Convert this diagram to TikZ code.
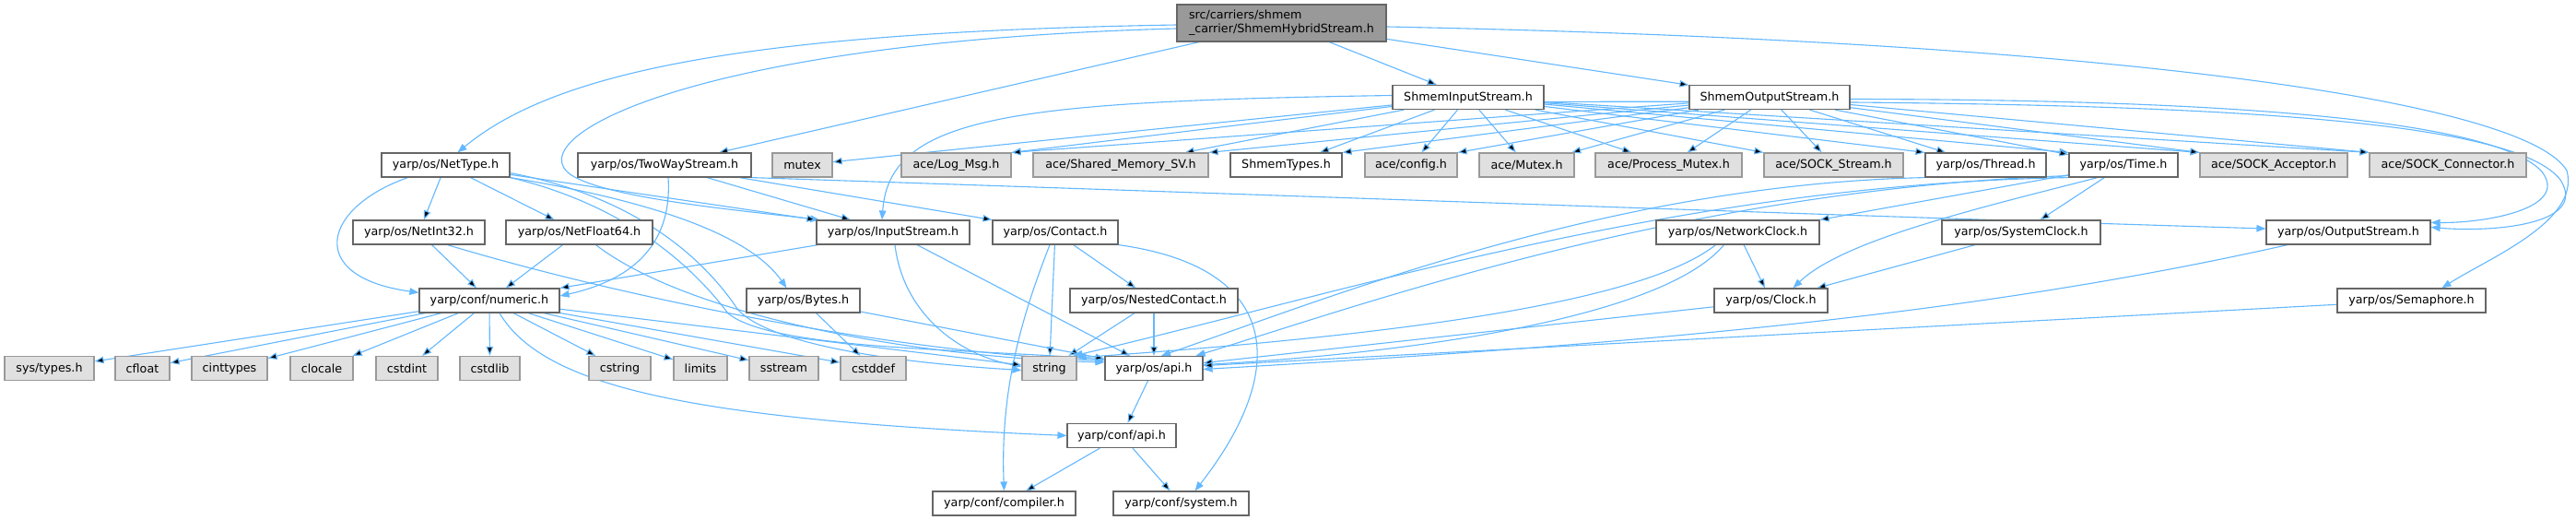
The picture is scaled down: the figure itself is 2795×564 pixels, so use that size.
\documentclass[tikz,border=0pt]{standalone}
\usepackage{fontspec}
\setmainfont{DejaVu Sans}
\usetikzlibrary{arrows.meta,backgrounds}

\definecolor{edgeblue}{HTML}{63B8FF}
\definecolor{boxline}{HTML}{666666}
\definecolor{sysline}{HTML}{999999}
\definecolor{sysfill}{HTML}{E0E0E0}
\definecolor{rootfill}{HTML}{999999}

\tikzset{
  file/.style={draw=boxline, fill=white, line width=1.2pt, inner sep=0pt,
    minimum height=26pt, font=\fontsize{12.7}{15}\selectfont},
  sysfile/.style={file, draw=sysline, fill=sysfill},
  rootfile/.style={file, fill=rootfill, minimum height=40pt, align=left},
  dep/.style={draw=edgeblue, line width=1.1pt,
    -{Triangle[length=10pt,width=7.5pt]}}
}

\begin{document}
\begin{tikzpicture}[x=1pt, y=-1pt]
   \useasboundingbox (0,0) rectangle (2795,564);

   % rows, top to bottom
   \node (root)   [rootfile, minimum width=227pt] at (1390.5,25)
      {src/carriers/shmem\\\_carrier/ShmemHybridStream.h};

   \node (ShmIn)  [file, minimum width=164pt] at (1593,105.5) {ShmemInputStream.h};
   \node (ShmOut) [file, minimum width=174pt] at (1920,105.5) {ShmemOutputStream.h};

   \node (NetType)    [file, minimum width=139pt]    at (483.5,179)  {yarp/os/NetType.h};
   \node (TwoWay)     [file, minimum width=188pt]    at (721,179)    {yarp/os/TwoWayStream.h};
   \node (mutex)      [sysfile, minimum width=65pt]  at (870.5,179)  {mutex};
   \node (LogMsg)     [sysfile, minimum width=119pt] at (1037.5,179) {ace/Log\_Msg.h};
   \node (SharedMem)  [sysfile, minimum width=190pt] at (1216,179)   {ace/Shared\_Memory\_SV.h};
   \node (ShmTypes)   [file, minimum width=121pt]    at (1395.5,179) {ShmemTypes.h};
   \node (aceConfig)  [sysfile, minimum width=100pt] at (1531,179)   {ace/config.h};
   \node (aceMutex)   [sysfile, minimum width=103pt] at (1656.5,179) {ace/Mutex.h};
   \node (ProcMutex)  [sysfile, minimum width=159pt] at (1810.5,179) {ace/Process\_Mutex.h};
   \node (SockStream) [sysfile, minimum width=151pt] at (1989.5,179) {ace/SOCK\_Stream.h};
   \node (Thread)     [file, minimum width=131pt]    at (2154.5,179) {yarp/os/Thread.h};
   \node (Time)       [file, minimum width=118pt]    at (2304,179)   {yarp/os/Time.h};
   \node (SockAcc)    [sysfile, minimum width=160pt] at (2467,179)   {ace/SOCK\_Acceptor.h};
   \node (SockConn)   [sysfile, minimum width=170pt] at (2656,179)   {ace/SOCK\_Connector.h};

   \node (NetInt32)   [file, minimum width=143pt] at (454.5,252)  {yarp/os/NetInt32.h};
   \node (NetFloat64) [file, minimum width=159pt] at (628.5,252)  {yarp/os/NetFloat64.h};
   \node (InStream)   [file, minimum width=166pt] at (969,252)    {yarp/os/InputStream.h};
   \node (Contact)    [file, minimum width=136pt] at (1145,252)   {yarp/os/Contact.h};
   \node (NetClock)   [file, minimum width=177pt] at (1885.5,252) {yarp/os/NetworkClock.h};
   \node (SysClock)   [file, minimum width=172pt] at (2193,252)   {yarp/os/SystemClock.h};
   \node (OutStream)  [file, minimum width=178pt] at (2548,252)   {yarp/os/OutputStream.h};

   \node (numeric)   [file, minimum width=152pt] at (531,326)    {yarp/conf/numeric.h};
   \node (Bytes)     [file, minimum width=123pt] at (871.5,326)  {yarp/os/Bytes.h};
   \node (Nested)    [file, minimum width=182pt] at (1252,326)   {yarp/os/NestedContact.h};
   \node (Clock)     [file, minimum width=123pt] at (1921.5,326) {yarp/os/Clock.h};
   \node (Semaphore) [file, minimum width=161pt] at (2616.5,326) {yarp/os/Semaphore.h};

   \node (systypes)  [sysfile, minimum width=97pt] at (53.5,399.5)   {sys/types.h};
   \node (cfloat)    [sysfile, minimum width=59pt] at (154.5,399.5)  {cfloat};
   \node (cinttypes) [sysfile, minimum width=82pt] at (249,399.5)    {cinttypes};
   \node (clocale)   [sysfile, minimum width=68pt] at (349,399.5)    {clocale};
   \node (cstdint)   [sysfile, minimum width=67pt] at (441.5,399.5)  {cstdint};
   \node (cstdlib)   [sysfile, minimum width=65pt] at (531.5,399.5)  {cstdlib};
   \node (cstring)   [sysfile, minimum width=67pt] at (672.5,399.5)  {cstring};
   \node (limits)    [sysfile, minimum width=58pt] at (760,399.5)    {limits};
   \node (sstream)   [sysfile, minimum width=75pt] at (850.5,399.5)  {sstream};
   \node (cstddef)   [sysfile, minimum width=71pt] at (947.5,399.5)  {cstddef};
   \node (string)    [sysfile, minimum width=59pt] at (1138.5,399.5) {string};
   \node (osapi)     [file, minimum width=106pt]   at (1252,399.5)   {yarp/os/api.h};

   \node (confapi)   [file, minimum width=118pt] at (1217,472.5) {yarp/conf/api.h};

   \node (compiler)  [file, minimum width=155pt] at (1089.5,546) {yarp/conf/compiler.h};
   \node (system)    [file, minimum width=147pt] at (1281.5,546) {yarp/conf/system.h};

   \begin{scope}[on background layer]
   \fill[white] (0,0) rectangle (2795,564);

   % root file
   \path[dep] (root) edge (ShmIn)
                     edge (ShmOut)
                     edge (TwoWay);
   \draw[dep] ([yshift=-2pt]root.west) .. controls (800,35) and (600,80)
      .. ([xshift=13pt]NetType.north);
   \draw[dep] ([yshift=-6pt]root.west) .. controls (750,45) and (560,150)
      .. (620,190) .. controls (660,215) and (800,228) .. ([xshift=4pt]InStream.north west);
   \draw[dep] ([yshift=-4pt]root.east) .. controls (2300,45) and (2740,110)
      .. (2785,185) .. controls (2800,240) and (2700,280) .. ([xshift=33pt]Semaphore.north);

   % shmem streams
   \path[dep] (ShmIn) edge (mutex)
                      edge (LogMsg.north east)
                      edge (SharedMem)
                      edge (ShmTypes)
                      edge (aceConfig)
                      edge (aceMutex)
                      edge (ProcMutex)
                      edge (SockStream.north west)
                      edge (Thread.north west)
                      edge (Time.north west)
                      edge (SockAcc.north west)
                      edge (SockConn.north west);
   \draw[dep] ([yshift=2pt]ShmIn.west) .. controls (1100,110) and (965,125)
      .. ([xshift=-12pt]InStream.north);
   \draw[dep] ([yshift=-5pt]ShmIn.east) .. controls (2300,108) and (2720,120)
      .. (2778,195) .. controls (2810,245) and (2700,252) .. ([yshift=-8pt]OutStream.north east);
   \path[dep] (ShmOut) edge (LogMsg.north east)
                       edge (SharedMem.north east)
                       edge (ShmTypes.north east)
                       edge (aceConfig.north east)
                       edge (aceMutex)
                       edge (ProcMutex)
                       edge (SockStream)
                       edge (Thread)
                       edge (Time)
                       edge (SockAcc.north west)
                       edge (SockConn.north west);
   \draw[dep] ([yshift=-2pt]ShmOut.east) .. controls (2400,108) and (2700,128)
      .. (2757,185) .. controls (2790,225) and (2700,242) .. ([yshift=-3pt]OutStream.north east);

   % yarp/os headers
   \path[dep] (TwoWay) edge (InStream)
                       edge (Contact.north west);
   \draw[dep] ([xshift=4pt]TwoWay.south) .. controls (730,270) and (680,305)
      .. ([yshift=5pt]numeric.east);
   \draw[dep] (TwoWay.south east) .. controls (1400,212) and (2000,234)
      .. ([yshift=4pt]OutStream.west);

   \path[dep] (NetType) edge (NetInt32)
                        edge (NetFloat64)
                        edge (InStream.north west);
   \draw[dep] ([xshift=-41pt]NetType.south) .. controls (350,225) and (330,300)
      .. ([yshift=-5pt]numeric.north west);
   \draw[dep] (NetType.south east) .. controls (690,215) and (810,250)
      .. ([xshift=-18pt]Bytes.north);
   \draw[dep] ([yshift=5pt]NetType.south east) .. controls (700,215) and (770,290)
      .. (800,335) .. controls (830,370) and (950,392) .. ([yshift=-2pt]string.west);
   \draw[dep] (NetType.south east) .. controls (690,225) and (760,300)
      .. (790,340) .. controls (840,380) and (1050,378) .. ([yshift=-4pt]osapi.north west);

   \path[dep] (NetInt32) edge (numeric);
   \draw[dep] ([xshift=31pt]NetInt32.south) .. controls (700,330) and (1000,385)
      .. ([yshift=-5pt]osapi.north west);
   \path[dep] (NetFloat64) edge (numeric);
   \draw[dep] ([xshift=18pt]NetFloat64.south) .. controls (750,345) and (1000,388)
      .. ([yshift=-7pt]osapi.north west);

   \path[dep] (InStream) edge (numeric.north east)
                         edge (osapi);
   \draw[dep] ([xshift=2pt]InStream.south) .. controls (980,340) and (1040,385)
      .. ([yshift=2pt]string.west);

   \path[dep] (Contact) edge (string)
                        edge (Nested);
   \draw[dep] ([xshift=-6pt]Contact.south) .. controls (1110,340) and (1085,420)
      .. (compiler.north);
   \draw[dep] (Contact.south east) .. controls (1390,290) and (1400,400)
      .. ([xshift=15pt]system.north);
   \path[dep] (Nested) edge (string)
                       edge (osapi);
   \path[dep] (Bytes) edge (cstddef)
                      edge (osapi);

   % numeric.h
   \path[dep] (numeric) edge (systypes)
                        edge (cfloat)
                        edge (cinttypes)
                        edge (clocale)
                        edge (cstdint)
                        edge (cstdlib)
                        edge (cstring)
                        edge (limits)
                        edge (sstream)
                        edge (cstddef)
                        edge (string);
   \draw[dep] ([xshift=11pt]numeric.south) .. controls (590,420) and (750,455)
      .. (confapi.west);

   % time and clocks
   \draw[dep] (Thread.south west) .. controls (1750,200) and (1450,320)
      .. ([xshift=8pt]osapi.north);
   \path[dep] (Time) edge (NetClock.north east)
                     edge (SysClock);
   \draw[dep] ([xshift=-28pt]Time.south) .. controls (2150,225) and (2000,260)
      .. ([xshift=24pt]Clock.north);
   \draw[dep] (Time.south west) .. controls (1820,200) and (1450,320)
      .. ([xshift=-4pt]string.north east);
   \draw[dep] ([yshift=2pt]Time.south west) .. controls (1830,205) and (1480,330)
      .. ([xshift=-8pt]osapi.north east);
   \path[dep] (NetClock) edge (Clock);
   \draw[dep] ([xshift=-24pt]NetClock.south) .. controls (1780,330) and (1500,365)
      .. ([yshift=-2pt]string.north east);
   \draw[dep] ([xshift=-15pt]NetClock.south) .. controls (1800,350) and (1500,385)
      .. ([yshift=4pt]osapi.east);
   \path[dep] (SysClock) edge (Clock);
   \path[dep] (Clock) edge (osapi);
   \draw[dep] ([xshift=-66pt]OutStream.south) .. controls (2150,340) and (1800,372)
      .. ([yshift=-1pt]osapi.east);
   \path[dep] (Semaphore) edge (osapi);

   % yarp/conf
   \path[dep] (osapi) edge (confapi);
   \path[dep] (confapi) edge (compiler)
                        edge (system);
   \end{scope}
\end{tikzpicture}
\end{document}
